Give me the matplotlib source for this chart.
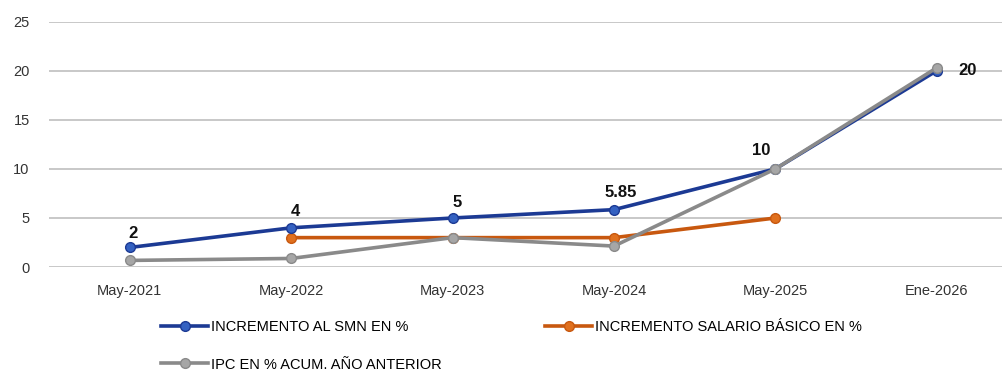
import numpy as np
import matplotlib.pyplot as plt

plt.rcParams['font.family'] = ['Liberation Sans Narrow', 'Liberation Sans', 'DejaVu Sans']

categories = ["May-2021", "May-2022", "May-2023", "May-2024", "May-2025", "Ene-2026"]
smn = [2, 4, 5, 5.85, 10, 20]
salario = [np.nan, 3, 3, 3, 5, np.nan]
ipc = [0.68, 0.88, 3.0, 2.14, 10, 20.3]
smn_labels = ["2", "4", "5", "5.85", "10", "20"]

x = np.arange(len(categories))

fig = plt.figure(figsize=(10.03, 3.72), dpi=100)
ax = fig.add_axes([0.049, 0.282, 0.951, 0.66])

l1, = ax.plot(x, smn, color="#1c3a94", lw=2.6, marker="o", ms=7,
              mfc="#3461c1", mec="#1c3a94", label="INCREMENTO AL SMN EN %", zorder=4)
l2, = ax.plot(x, salario, color="#c8580f", lw=2.6, marker="o", ms=7,
              mfc="#e0701e", mec="#c8580f", label="INCREMENTO SALARIO BÁSICO EN %", zorder=3)
l3, = ax.plot(x, ipc, color="#8a8a8a", lw=2.6, marker="o", ms=7,
              mfc="#a6a6a6", mec="#8a8a8a", label="IPC EN % ACUM. AÑO ANTERIOR", zorder=5)

offsets = [(2, 5), (3, 6), (3, 6), (5, 7), (-10, 8), (22, 0)]
for i, (v, t) in enumerate(zip(smn, smn_labels)):
    dx, dy = offsets[i]
    va = "bottom" if dy else "center"
    ax.annotate(t, (x[i], v), xytext=(dx, dy), textcoords="offset points",
                ha="center", va=va, fontsize=12, fontweight="bold", color="#111111",
                zorder=6)

ax.set_xlim(-0.5, 5.41)
ax.set_ylim(0, 25)
ax.set_yticks([0, 5, 10, 15, 20, 25])
ax.set_xticks(x)
ax.set_xticklabels(categories)
ax.grid(axis="y", color="#bfbfbf", lw=1.2)
ax.set_axisbelow(True)
for s in ax.spines.values():
    s.set_visible(False)
ax.tick_params(length=0, labelsize=10.5, colors="#333333")
ax.tick_params(axis="x", pad=12)
ax.tick_params(axis="y", pad=14)

fig.legend(handles=[l1, l3, l2], loc="upper left", bbox_to_anchor=(0.155, 0.155), ncol=2,
           frameon=False, fontsize=10.5, handlelength=3.2, handletextpad=0.2,
           columnspacing=7.1, labelspacing=1.6, borderaxespad=0)

fig.savefig("out.png", dpi=100)
